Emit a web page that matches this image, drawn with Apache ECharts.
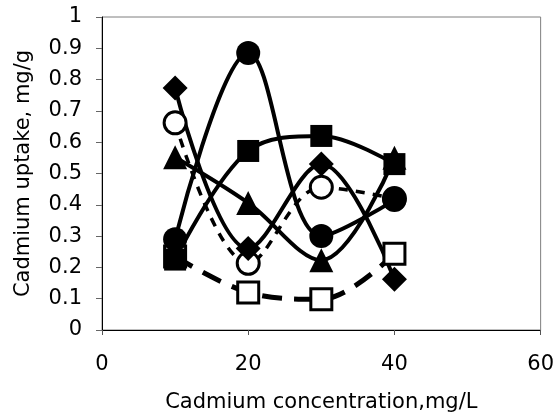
<!DOCTYPE html>
<html>
<head>
<meta charset="utf-8">
<script src="https://cdn.jsdelivr.net/npm/echarts@6/dist/echarts.min.js"></script>
<style>
  html, body { margin: 0; padding: 0; background: #fff; }
  #chart { width: 557px; height: 418px; }
</style>
</head>
<body>
<div id="chart"></div>
<script>
// concentrations (mg/L)
const concentrations = [10, 20, 30, 40]

// uptake values (mg/g)
const filledCircle = [0.29, 0.885, 0.30, 0.415]
const filledSquare = [0.225, 0.572, 0.62, 0.53]
const filledTriangle = [0.552, 0.406, 0.223, 0.55]
const filledDiamond = [0.773, 0.26, 0.53, 0.162]
const openCircle = [0.662, 0.213, 0.456, 0.42]
const openSquare = [0.235, 0.12, 0.098, 0.244]

const pairs = (vals) => concentrations.map((x, i) => [x, vals[i]])

const fontFamily = 'DejaVu Sans'
const textColor = '#000'

const chart = echarts.init(document.getElementById('chart'), null, { renderer: 'canvas' })

const solid = (name, symbol, size, vals) => ({
  name,
  type: 'line',
  data: pairs(vals),
  smooth: 0.35,
  smoothConstraint: false,
  symbol,
  symbolSize: size,
  lineStyle: { color: '#000', width: 4 },
  itemStyle: { color: '#000', borderColor: '#000', borderWidth: 0 },
  emphasis: { disabled: true }
})

const dashed = (name, symbol, size, vals, dash, width) => ({
  name,
  type: 'line',
  data: pairs(vals),
  smooth: 0.35,
  smoothConstraint: false,
  symbol,
  symbolSize: size,
  lineStyle: { color: '#000', width, type: dash, cap: 'butt' },
  itemStyle: { color: '#fff', borderColor: '#000', borderWidth: 3 },
  emphasis: { disabled: true }
})

const option = {
  backgroundColor: '#fff',
  animation: false,
  grid: {
    left: 102,
    right: 13,
    top: 17,
    bottom: 85,
    show: true,
    borderColor: '#7f7f7f',
    borderWidth: 1
  },
  xAxis: {
    type: 'value',
    min: 0,
    max: 60,
    interval: 20,
    name: 'Cadmium concentration,mg/L',
    nameLocation: 'middle',
    nameGap: 62,
    nameTextStyle: { fontFamily, fontSize: 21, color: textColor },
    axisLine: { lineStyle: { color: '#000', width: 1 } },
    axisTick: { show: true, length: 5, lineStyle: { color: '#555' } },
    axisLabel: { fontFamily, fontSize: 21, color: textColor, margin: 24 },
    splitLine: { show: false }
  },
  yAxis: {
    type: 'value',
    min: 0,
    max: 1,
    interval: 0.1,
    name: 'Cadmium uptake, mg/g',
    nameLocation: 'middle',
    nameGap: 68,
    nameTextStyle: { fontFamily, fontSize: 21, color: textColor },
    axisLine: { show: true, lineStyle: { color: '#000', width: 1 } },
    axisTick: { show: true, length: 6, lineStyle: { color: '#666' } },
    axisLabel: { fontFamily, fontSize: 21, color: textColor, margin: 20 },
    splitLine: { show: false }
  },
  series: [
    dashed('Open square', 'rect', 21, openSquare, [20, 12], 5),
    dashed('Open circle', 'circle', 22, openCircle, [9, 8], 3.5),
    solid('Triangle', 'triangle', 24, filledTriangle),
    solid('Square', 'rect', 22, filledSquare),
    solid('Diamond', 'diamond', 25, filledDiamond),
    solid('Circle', 'circle', 24, filledCircle)
  ]
}

chart.setOption(option)
</script>
</body>
</html>
